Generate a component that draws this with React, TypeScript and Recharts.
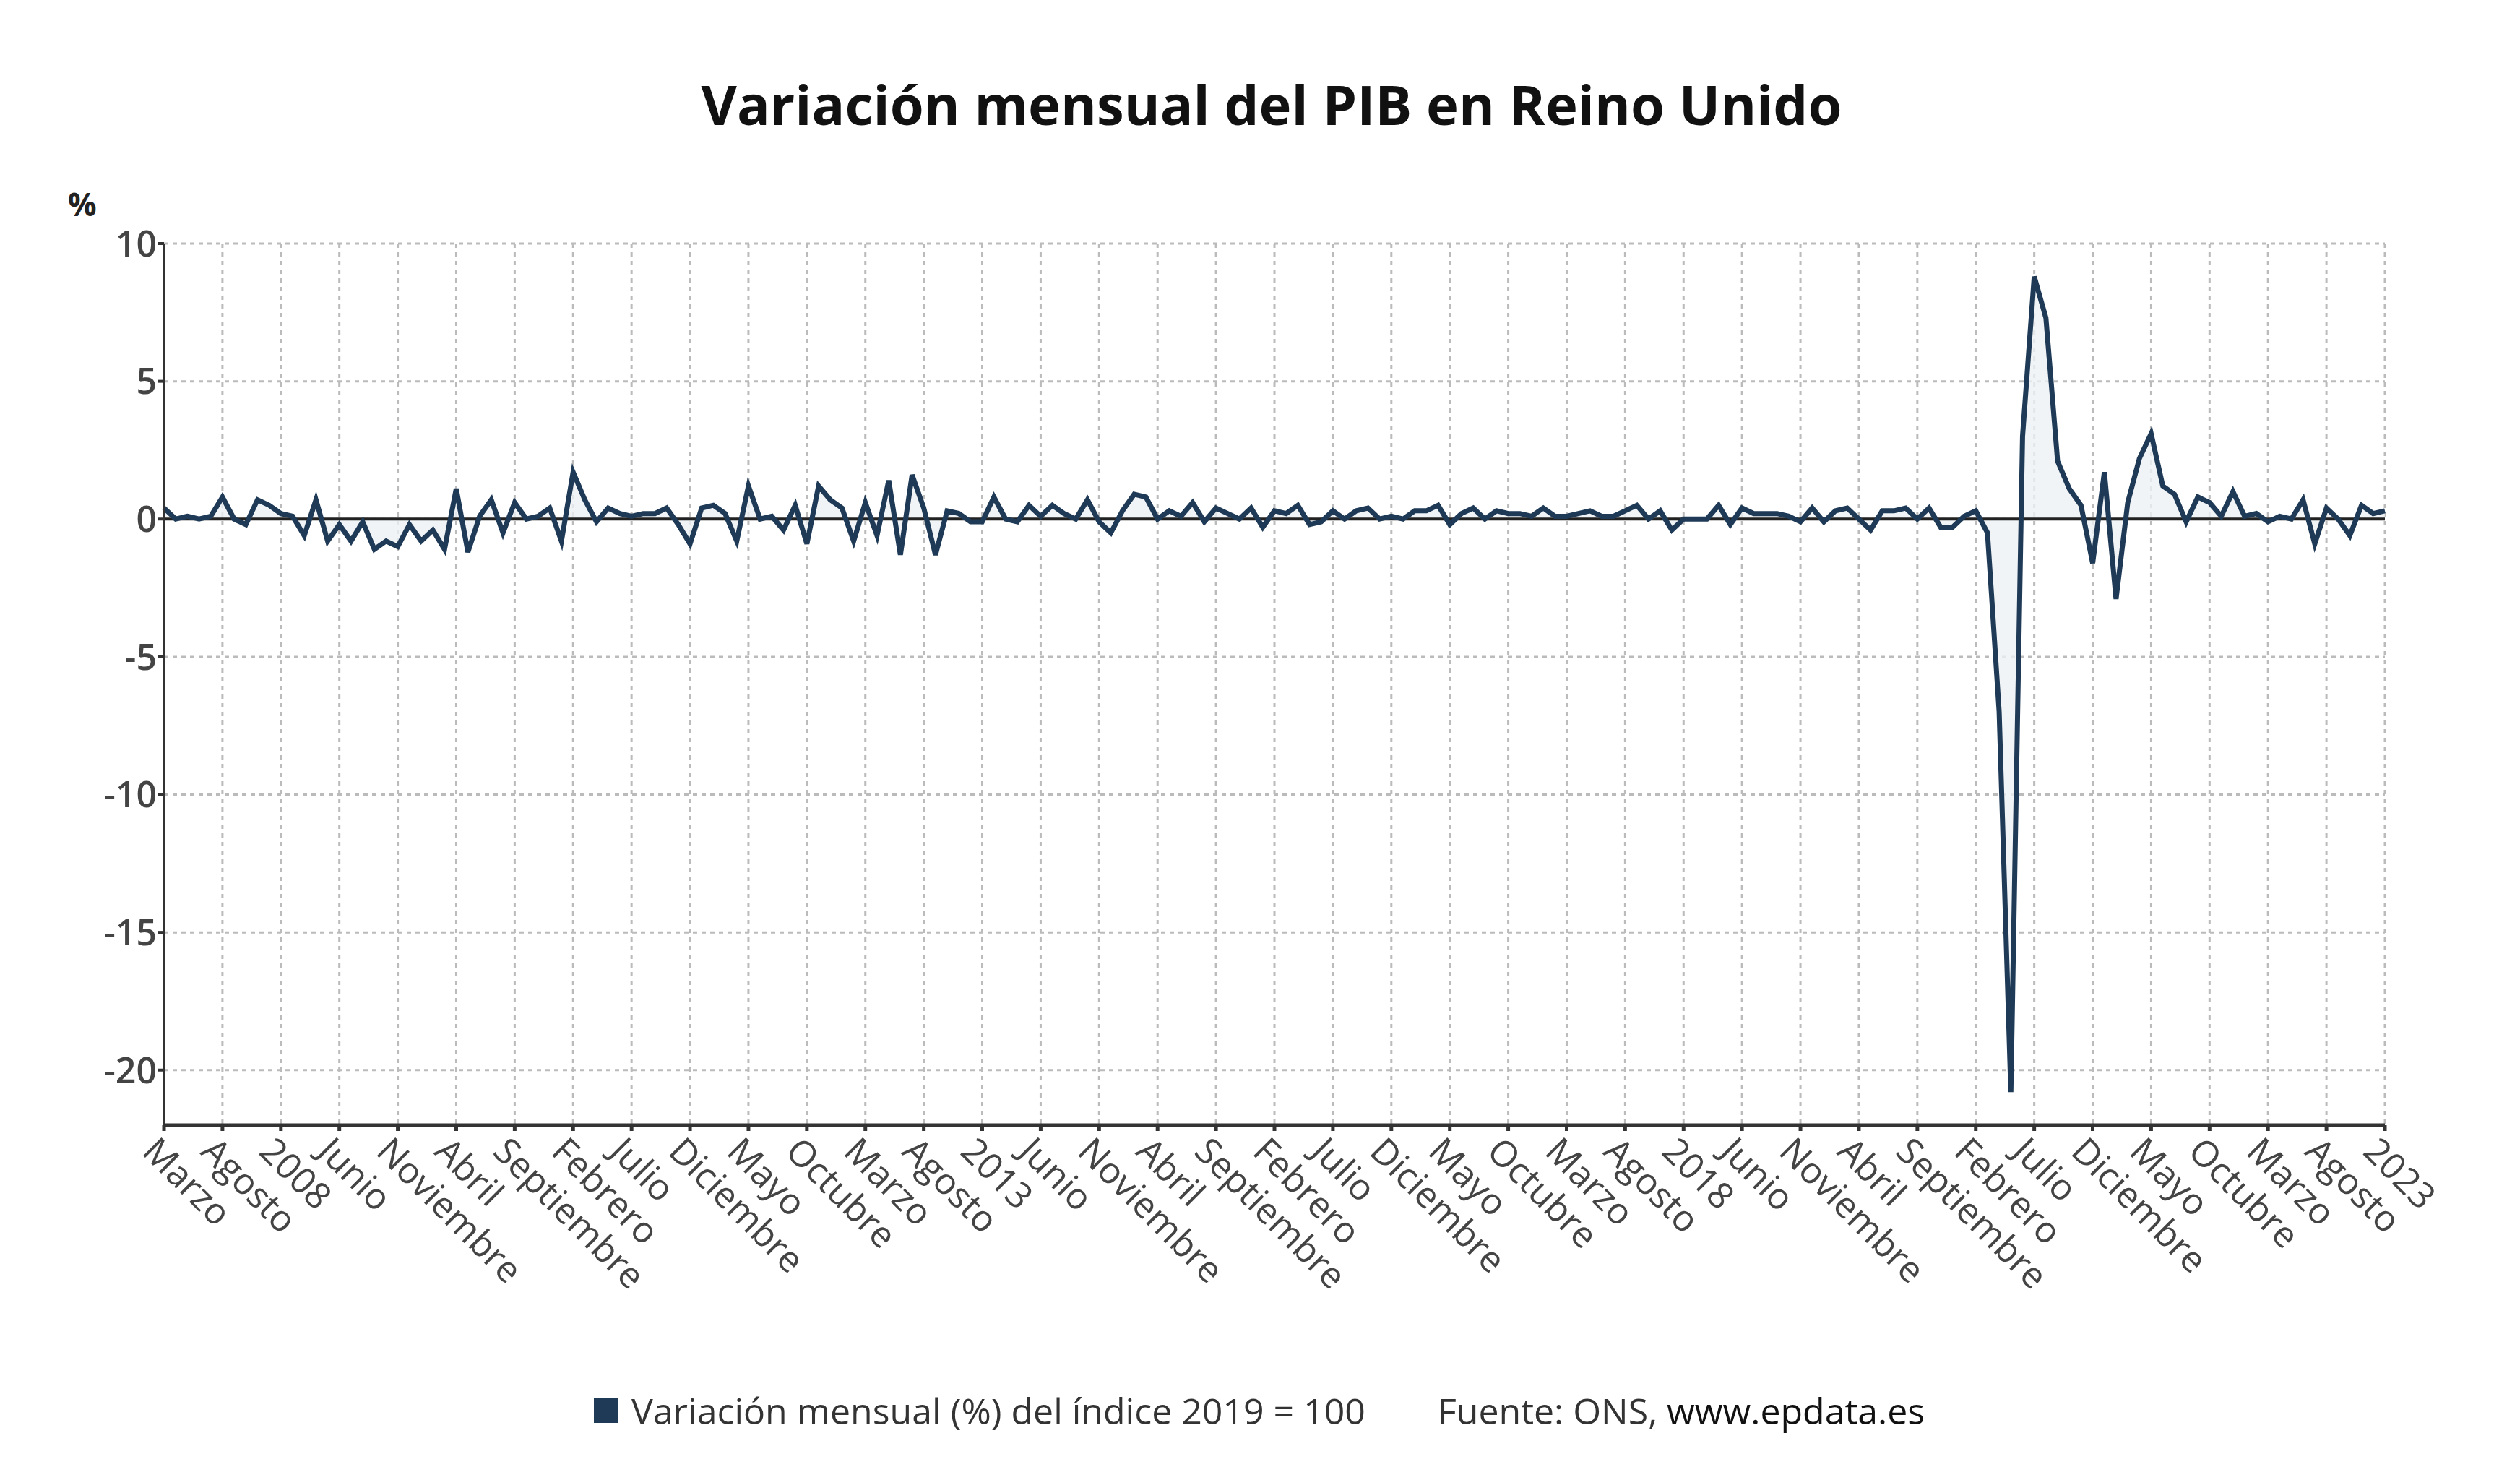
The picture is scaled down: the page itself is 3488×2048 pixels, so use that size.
import React from "react";
import { ComposedChart, Line, Area, XAxis, YAxis, CartesianGrid, ReferenceLine } from "recharts";

const monthNames = ["Enero","Febrero","Marzo","Abril","Mayo","Junio","Julio","Agosto","Septiembre","Octubre","Noviembre","Diciembre"];

const values = [
  0.4, 0.0, 0.1, 0.0, 0.1,
  0.8, 0.0, -0.2, 0.7, 0.5,
  0.2, 0.1, -0.6, 0.7, -0.8,
  -0.2, -0.8, -0.1, -1.1, -0.8,
  -1.0, -0.2, -0.8, -0.4, -1.1,
  1.1, -1.2, 0.1, 0.7, -0.5,
  0.6, 0.0, 0.1, 0.4, -0.8,
  1.7, 0.7, -0.1, 0.4, 0.2,
  0.1, 0.2, 0.2, 0.4, -0.2,
  -0.9, 0.4, 0.5, 0.2, -0.8,
  1.2, 0.0, 0.1, -0.4, 0.5,
  -0.9, 1.2, 0.7, 0.4, -0.8,
  0.6, -0.6, 1.4, -1.3, 1.6,
  0.4, -1.3, 0.3, 0.2, -0.1,
  -0.1, 0.8, 0.0, -0.1, 0.5,
  0.1, 0.5, 0.2, 0.0, 0.7,
  -0.1, -0.5, 0.3, 0.9, 0.8,
  0.0, 0.3, 0.1, 0.6, -0.1,
  0.4, 0.2, 0.0, 0.4, -0.3,
  0.3, 0.2, 0.5, -0.2, -0.1,
  0.3, 0.0, 0.3, 0.4, 0.0,
  0.1, 0.0, 0.3, 0.3, 0.5,
  -0.2, 0.2, 0.4, 0.0, 0.3,
  0.2, 0.2, 0.1, 0.4, 0.1,
  0.1, 0.2, 0.3, 0.1, 0.1,
  0.3, 0.5, 0.0, 0.3, -0.4,
  0.0, 0.0, 0.0, 0.5, -0.2,
  0.4, 0.2, 0.2, 0.2, 0.1,
  -0.1, 0.4, -0.1, 0.3, 0.4,
  0.0, -0.4, 0.3, 0.3, 0.4,
  0.0, 0.4, -0.3, -0.3, 0.1,
  0.3, -0.5, -7.0, -20.8, 3.0,
  8.8, 7.3, 2.1, 1.1, 0.5,
  -1.6, 1.7, -2.9, 0.6, 2.2,
  3.1, 1.2, 0.9, -0.1, 0.8,
  0.6, 0.1, 1.0, 0.1, 0.2,
  -0.1, 0.1, 0.0, 0.7, -0.9,
  0.4, 0.0, -0.6, 0.5, 0.2,
  0.3,
];

const startYear = 2007;
const startMonth = 2; // March (0-based)
const labels = values.map((_, i) => {
  const m = (startMonth + i) % 12;
  const y = startYear + Math.floor((startMonth + i) / 12);
  return m === 0 ? String(y) : monthNames[m];
});

const data = values.map((v, i) => ({ idx: i, v }));
const xTicks = values.map((_, i) => i).filter((i) => i % 5 === 0);
const yTicks = [10, 5, 0, -5, -10, -15, -20];

const FONT = "'Open Sans', 'Noto Sans', sans-serif";
const LINE = "#1f3a56";

const XTick = (props: any) => {
  const { x, y, payload } = props;
  return (
    <g transform={`translate(${x},${y + 8})`}>
      <text transform="rotate(45)" x={0} y={0} dy="0.75em" dx={-8} textAnchor="start"
        fontSize={50} fill="#444" fontFamily={FONT}>{labels[payload.value]}</text>
    </g>
  );
};

export default function App() {
  return (
    <div style={{ position: "relative", width: 3472, height: 2030, background: "#fff", fontFamily: FONT }}>
      <div style={{ position: "absolute", left: 0, width: 3504, top: 84, textAlign: "center", fontSize: 76, fontWeight: 700, color: "#111" }}>
        Variación mensual del PIB en Reino Unido
      </div>
      <div style={{ position: "absolute", left: 86, top: 244, fontSize: 44, fontWeight: 700, color: "#222" }}>%</div>
      <ComposedChart width={3472} height={1830} data={data}
        margin={{ top: 329, right: 179, left: 109, bottom: 0 }}>
        <CartesianGrid stroke="#bbb" strokeDasharray="6 6" strokeWidth={3} />
        <XAxis dataKey="idx" type="number" domain={[0, 190]} ticks={xTicks} interval={0}
          tick={<XTick />} height={281} stroke="#333" strokeWidth={5} tickSize={8} />
        <YAxis type="number" domain={[-22, 10]} ticks={yTicks} interval={0} width={110}
          tick={{ fontSize: 50, fill: "#444", fontFamily: FONT, fontWeight: 600 }} stroke="#333" strokeWidth={4} tickSize={8} />
        <Area dataKey="v" baseValue={0} type="linear" fill="#eef1f4" fillOpacity={0.8} stroke="none" isAnimationActive={false} />
        <ReferenceLine y={0} stroke="#222" strokeWidth={4} />
        <Line dataKey="v" type="linear" stroke={LINE} strokeWidth={7} dot={false} isAnimationActive={false} />
      </ComposedChart>
      <div style={{ position: "absolute", top: 1910, left: 814, display: "flex", alignItems: "center", fontSize: 50, color: "#333" }}>
        <span style={{ display: "inline-block", width: 34, height: 34, background: LINE, marginRight: 18 }} />
        <span>Variación mensual (%) del índice 2019 = 100</span>
        <span style={{ marginLeft: 100 }}>Fuente: ONS, <span style={{ color: "#111" }}>www.epdata.es</span></span>
      </div>
    </div>
  );
}
